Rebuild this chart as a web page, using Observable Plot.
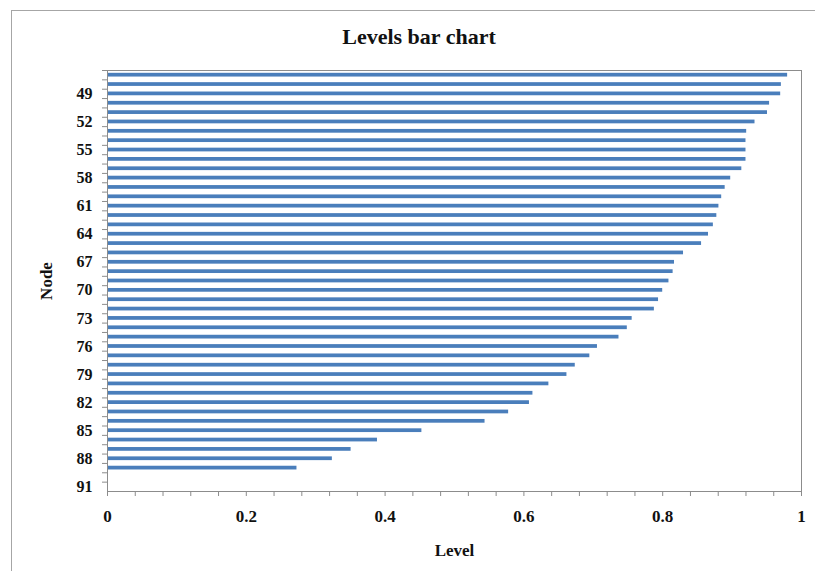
<!DOCTYPE html>
<html>
<head>
<meta charset="utf-8">
<script src="https://cdn.jsdelivr.net/npm/d3@7"></script>
<script src="https://cdn.jsdelivr.net/npm/@observablehq/plot@0.6"></script>
<style>
  html, body { margin: 0; padding: 0; background: #fff; }
  #wrap { position: relative; width: 815px; height: 571px; overflow: hidden; }
  #border { position: absolute; left: 11px; top: 10px; width: 830px; height: 600px;
            border-left: 1px solid #a6a6a6; border-top: 1px solid #a6a6a6; box-sizing: border-box; }
  #title { position: absolute; left: 0; top: 24px; width: 838px; text-align: center;
           font-family: "Liberation Serif", serif; font-weight: bold; font-size: 22px; color: #111; }
  #chart { position: absolute; left: 0; top: 0; }
</style>
</head>
<body>
<div id="wrap">
  <div id="border"></div>
  <div id="title">Levels bar chart</div>
  <div id="chart"></div>
</div>
<script>
// Categories (nodes) from top to bottom
const nodes = [47,48,49,50,51,52,53,54,55,56,57,58,59,60,61,62,63,64,65,66,67,68,69,70,
               71,72,73,74,75,76,77,78,79,80,81,82,83,84,85,86,87,88,89,90,91];
// Levels (90 and 91 have no bar)
const levels = [0.980,0.971,0.970,0.954,0.951,0.933,0.921,0.920,0.920,0.920,0.914,0.898,0.890,
                0.885,0.881,0.878,0.873,0.866,0.856,0.830,0.817,0.815,0.809,0.800,0.794,0.788,
                0.756,0.749,0.737,0.706,0.695,0.674,0.662,0.636,0.613,0.608,0.578,0.544,0.453,
                0.389,0.351,0.324,0.273,null,null];
// Tick labels
const nodeLabels = [49,52,55,58,61,64,67,70,73,76,79,82,85,88,91];
const levelLabels = [0,0.2,0.4,0.6,0.8,1];
const levelMinorTicks = [0,0.04,0.08,0.12,0.16,0.2,0.24,0.28,0.32,0.36,0.4,0.44,0.48,0.52,0.56,0.6,
                         0.64,0.68,0.72,0.76,0.8,0.84,0.88,0.92,0.96,1];

const data = nodes.map((n, i) => ({node: String(n), level: levels[i]})).filter(d => d.level != null);

const W = 815, H = 571, mT = 70, mB = 80, mL = 107, mR = 14;
const step = (H - mT - mB) / nodes.length;
const axisColor = "#8c8c8c";

const chart = Plot.plot({
  width: W, height: H,
  marginTop: mT, marginBottom: mB, marginLeft: mL, marginRight: mR,
  style: {fontFamily: "'Liberation Serif', serif", fontWeight: "bold", fontSize: "16px", color: "#111", background: "transparent"},
  x: {domain: [0, 1]},
  y: {domain: nodes.map(String), paddingInner: 0.6, paddingOuter: 0.3, round: false},
  marks: [
    Plot.barX(data, {x: "level", y: "node", fill: "#4a7ebb"}),
    Plot.frame({stroke: axisColor}),
    // y boundary ticks
    Plot.axisY({ticks: nodes.map(String), tickSize: 5, tickFormat: () => "", dy: -step / 2, stroke: axisColor, label: null}),
    // y labels
    Plot.axisY({ticks: nodeLabels.map(String), tickSize: 0, tickPadding: 15, fontSize: 16, fill: "#111",
                label: "Node", labelAnchor: "center", labelOffset: 68, labelArrow: false}),
    // x minor ticks
    Plot.axisX({ticks: levelMinorTicks, tickSize: 5, tickFormat: () => "", stroke: axisColor, label: null}),
    // x labels
    Plot.axisX({ticks: levelLabels, tickSize: 0, tickPadding: 18, tickFormat: d => String(d), fontSize: 17, fill: "#111",
                label: "Level", labelAnchor: "center", labelOffset: 64, labelArrow: false})
  ]
});
// axis titles slightly larger
chart.querySelectorAll("g[aria-label='y-axis label'] text, g[aria-label='x-axis label'] text").forEach(t => t.setAttribute("font-size", "17"));
document.getElementById("chart").appendChild(chart);
</script>
</body>
</html>
